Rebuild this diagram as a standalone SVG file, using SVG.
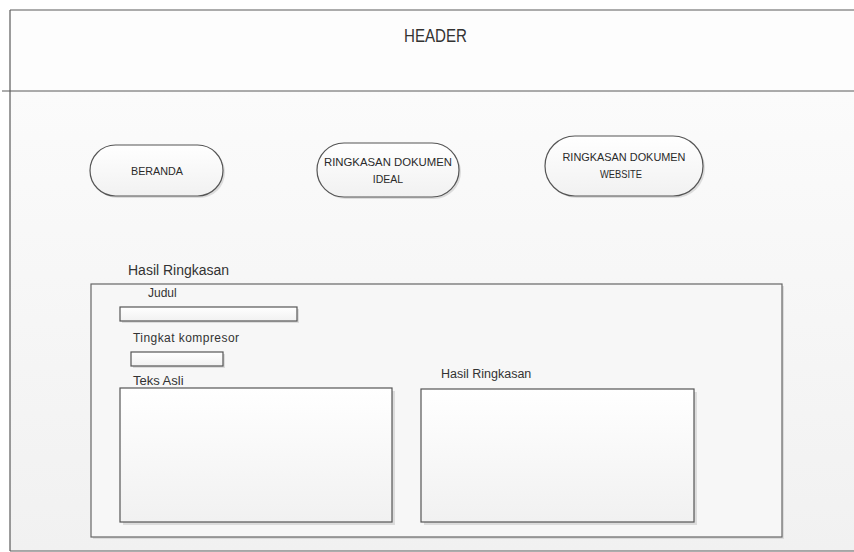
<svg xmlns="http://www.w3.org/2000/svg" width="854" height="552" viewBox="0 0 854 552">
<style>
.ln{fill:none;stroke:#5a5a5a;stroke-width:1.2}
.box{fill:url(#gBox);stroke:#555;stroke-width:1.2}
.sh{fill:#dcdcdc}
.t{font-family:"Liberation Sans",Arial,sans-serif;fill:#333}
.btn{font-family:"Liberation Sans",Arial,sans-serif;fill:#2a2a2a;font-size:10.5px;text-anchor:middle}
</style>
<defs>
<linearGradient id="gBody" x1="0" y1="0" x2="0" y2="1">
<stop offset="0" stop-color="#fbfbfb"/><stop offset="1" stop-color="#f1f1f1"/>
</linearGradient>
<linearGradient id="gBox" x1="0" y1="0" x2="0" y2="1">
<stop offset="0" stop-color="#ffffff"/><stop offset="1" stop-color="#f1f1f1"/>
</linearGradient>
</defs>
<rect x="0" y="0" width="854" height="552" fill="#ffffff"/>
<g id="header">
<rect x="10" y="10" width="844" height="81" fill="#fdfdfd"/>
<line class="ln" x1="10" y1="10" x2="854" y2="10"/>
<text class="t" x="404" y="42" font-size="18" textLength="63" lengthAdjust="spacingAndGlyphs" fill="#2a2a2a">HEADER</text>
</g>
<g id="body">
<rect x="10" y="91" width="844" height="460" fill="url(#gBody)"/>
<line class="ln" x1="2" y1="91" x2="854" y2="91"/>
<line class="ln" x1="10" y1="10" x2="10" y2="551"/>
<line class="ln" x1="10" y1="551" x2="854" y2="551"/>
</g>
<g id="beranda">
<rect class="sh" x="92" y="147" width="133" height="51" rx="25.5"/>
<rect class="box" x="90" y="145" width="133" height="51" rx="25.5"/>
<text class="btn" x="157" y="175" textLength="52" lengthAdjust="spacingAndGlyphs">BERANDA</text>
</g>
<g id="ringkasan-ideal">
<rect class="sh" x="319" y="145" width="142" height="54" rx="27"/>
<rect class="box" x="317" y="143" width="142" height="54" rx="27"/>
<text class="btn" x="388" y="166" textLength="128" lengthAdjust="spacingAndGlyphs">RINGKASAN DOKUMEN</text>
<text class="btn" x="388" y="183">IDEAL</text>
</g>
<g id="ringkasan-website">
<rect class="sh" x="547" y="138" width="158" height="60" rx="30"/>
<rect class="box" x="545" y="136" width="158" height="60" rx="30"/>
<text class="btn" x="624" y="161" textLength="123" lengthAdjust="spacingAndGlyphs">RINGKASAN DOKUMEN</text>
<text class="btn" x="621" y="177.5" textLength="42" lengthAdjust="spacingAndGlyphs">WEBSITE</text>
</g>
<g id="hasil-panel">
<text class="t" x="128" y="275" font-size="14">Hasil Ringkasan</text>
<rect class="sh" x="93" y="286" width="691" height="253"/>
<rect x="91" y="284" width="691" height="253" fill="#f7f7f7" stroke="#666" stroke-width="1.2"/>
</g>
<g id="judul">
<text class="t" x="148" y="297" font-size="12">Judul</text>
<rect class="sh" x="122" y="309" width="177" height="14"/>
<rect class="box" x="120" y="307" width="177" height="14"/>
</g>
<g id="tingkat-kompresor">
<text class="t" x="133" y="342" font-size="12" textLength="106">Tingkat kompresor</text>
<rect class="sh" x="133" y="354" width="92" height="14"/>
<rect class="box" x="131" y="352" width="92" height="14"/>
</g>
<g id="teks-asli">
<text class="t" x="133" y="385" font-size="13">Teks Asli</text>
<rect class="sh" x="123" y="391" width="272" height="134"/>
<rect class="box" x="120" y="388" width="272" height="134"/>
</g>
<g id="hasil-ringkasan">
<text class="t" x="441" y="378" font-size="12.5">Hasil Ringkasan</text>
<rect class="sh" x="424" y="392" width="273" height="133"/>
<rect class="box" x="421" y="389" width="273" height="133"/>
</g>
<g id="connectors"></g>
</svg>
